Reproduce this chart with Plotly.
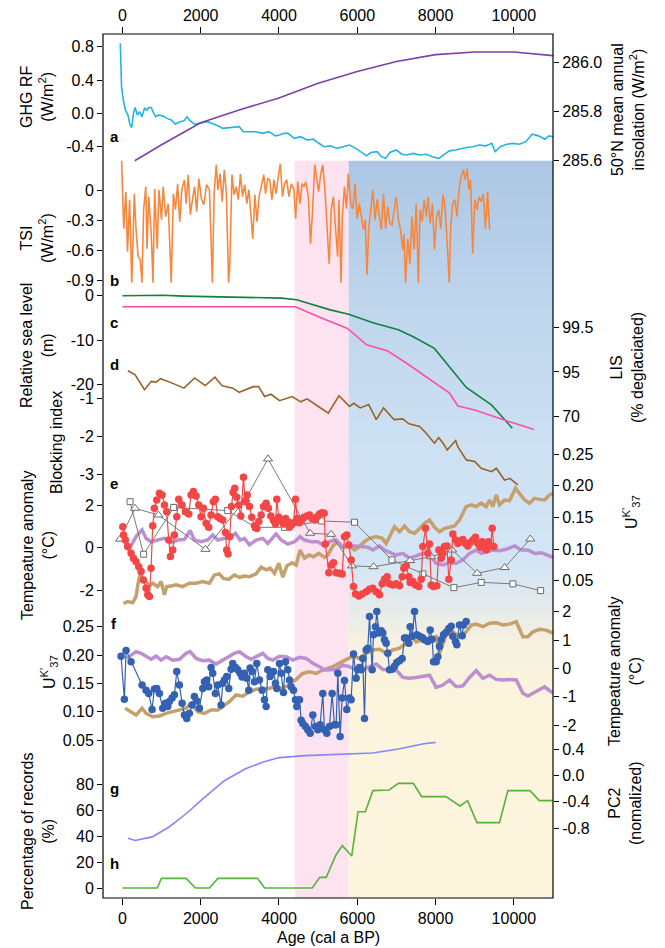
import plotly.graph_objects as go

# ---------------- data ----------------
ghg_age = [-54, -22, 22, 76, 141, 195, 239, 282, 325, 380, 434, 499, 564, 629, 672, 738, 781, 846, 922, 1030,
           1139, 1247, 1356, 1464, 1573, 1649, 1735, 1844, 1952, 2061, 2169, 2278, 2386, 2495, 2549, 2712, 2874,
           2983, 3091, 3254, 3416, 3579, 3742, 3905, 4013, 4121, 4230, 4393, 4555, 4718, 4881, 4989, 5152, 5315,
           5477, 5640, 5803, 5965, 6128, 6236, 6345, 6508, 6616, 6725, 6833, 6996, 7137, 7267, 7430, 7592, 7755,
           7918, 8080, 8243, 8351, 8514, 8677, 8785, 8948, 9111, 9273, 9436, 9523, 9653, 9816, 9978, 10141, 10304,
           10466, 10629, 10792, 10900, 11000]
ghg_rf = [0.84, 0.32, 0.16, 0.04, -0.02, -0.14, -0.17, 0.0, 0.07, -0.02, 0.02, -0.04, 0.06, 0.04, 0.07, 0.07, 0.02,
          -0.04, -0.02, -0.03, -0.06, -0.08, -0.13, -0.10, -0.09, -0.04, -0.09, -0.13, -0.12, -0.11, -0.10, -0.12,
          -0.14, -0.16, -0.18, -0.17, -0.16, -0.16, -0.22, -0.22, -0.22, -0.24, -0.22, -0.27, -0.26, -0.24, -0.24,
          -0.30, -0.28, -0.32, -0.31, -0.35, -0.40, -0.39, -0.42, -0.40, -0.38, -0.42, -0.48, -0.51, -0.47, -0.46,
          -0.52, -0.54, -0.47, -0.44, -0.49, -0.50, -0.48, -0.50, -0.49, -0.52, -0.54, -0.48, -0.45, -0.44, -0.42,
          -0.41, -0.40, -0.38, -0.39, -0.36, -0.46, -0.40, -0.37, -0.36, -0.37, -0.34, -0.25, -0.27, -0.31, -0.27,
          -0.28]

ins_age = [314, 1000, 2000, 3000, 4000, 5000, 6000, 7000, 8000, 9000, 10000, 11000]
ins_val = [285.60, 285.665, 285.754, 285.807, 285.855, 285.915, 285.963, 286.003, 286.031, 286.042, 286.042, 286.027]

tsi_age = [-20, 33, 87, 130, 184, 239, 304, 347, 401, 456, 499, 542, 597, 629, 672, 738, 781, 824, 889, 933, 998,
           1041, 1106, 1171, 1247, 1302, 1356, 1410, 1464, 1518, 1584, 1627, 1681, 1735, 1790, 1844, 1898, 1952,
           2017, 2082, 2148, 2223, 2299, 2343, 2397, 2440, 2495, 2549, 2603, 2657, 2712, 2744, 2798, 2852, 2907,
           2961, 3015, 3069, 3124, 3178, 3232, 3275, 3330, 3384, 3438, 3492, 3557, 3612, 3655, 3709, 3764, 3818,
           3872, 3926, 3981, 4035, 4089, 4143, 4197, 4252, 4317, 4382, 4425, 4479, 4534, 4588, 4642, 4685, 4750,
           4805, 4859, 4913, 4967, 5011, 5065, 5119, 5174, 5228, 5282, 5336, 5390, 5445, 5499, 5531, 5586, 5618,
           5672, 5727, 5770, 5835, 5889, 5944, 5998, 6052, 6106, 6160, 6204, 6247, 6291, 6345, 6399, 6453, 6508,
           6562, 6616, 6670, 6725, 6779, 6833, 6887, 6941, 6996, 7050, 7104, 7158, 7191, 7234, 7289, 7343, 7397,
           7451, 7505, 7560, 7603, 7657, 7711, 7766, 7809, 7863, 7918, 7972, 8026, 8080, 8134, 8189, 8243, 8297,
           8351, 8384, 8438, 8492, 8547, 8601, 8655, 8709, 8753, 8807, 8850, 8894, 8948, 9002, 9056, 9111, 9165,
           9219, 9273, 9327, 9382]
tsi_val = [0.30, -0.38, -0.01, -0.61, -0.09, -0.92, -0.03, -0.38, -0.66, -0.69, -0.92, -0.19, 0.04, -0.58, -0.06,
           -0.44, -0.92, 0.02, -0.58, 0.01, -0.29, 0.04, -0.26, -0.13, -0.92, -0.03, -0.19, 0.07, -0.31, 0.01, 0.11,
           -0.13, 0.16, -0.24, -0.09, 0.04, -0.21, 0.12, -0.08, -0.14, 0.06, 0.01, -0.92, -0.03, 0.26, 0.01, 0.17,
           -0.11, 0.21, -0.04, -0.92, -0.74, 0.16, -0.04, 0.04, -0.09, 0.17, -0.06, 0.06, -0.13, 0.01, -0.18, -0.48,
           -0.04, -0.31, -0.06, 0.07, 0.16, -0.03, 0.12, 0.11, -0.09, 0.11, -0.03, 0.14, 0.27, -0.06, 0.07, 0.11,
           -0.06, 0.07, 0.01, -0.28, 0.09, -0.13, 0.07, 0.04, 0.09, -0.06, -0.53, -0.19, 0.26, 0.11, -0.01, 0.16,
           0.26, 0.01, -0.38, -0.73, -0.18, -0.06, -0.38, -0.66, -0.09, -0.92, -0.26, 0.04, -0.18, 0.17, -0.13,
           -0.18, 0.07, -0.28, -0.13, -0.26, -0.39, -0.29, -0.84, -0.39, -0.18, 0.01, -0.29, -0.09, -0.26, -0.39,
           -0.03, -0.38, -0.16, -0.33, -0.34, -0.21, -0.06, -0.29, -0.39, -0.59, -0.43, -0.92, -0.48, -0.73, -0.26,
           -0.59, -0.13, -0.92, -0.19, -0.31, -0.09, -0.26, -0.06, -0.33, -0.13, -0.59, -0.26, -0.19, -0.38, -0.04,
           -0.16, -0.53, -0.92, -0.38, -0.13, -0.09, -0.26, 0.02, 0.14, 0.21, 0.11, 0.22, 0.01, 0.11, -0.63, -0.09,
           -0.19, -0.06, -0.11, -0.03, -0.38, -0.01, -0.39]

rsl_age = [0, 1030, 1570, 2930, 4070, 4450, 5310, 5780, 6400, 7050, 7430, 7970, 8350, 8785, 9435, 9960]
rsl_m = [0.0, 0.1, -0.1, -0.3, -0.55, -0.9, -3.2, -4.2, -6.1, -7.7, -9.25, -11.9, -16.0, -20.7, -24.7, -29.9]

lis_age = [0, 4415, 5100, 5750, 6240, 6780, 7270, 7865, 8350, 8570, 9000, 9870, 10520]
lis_m_equiv = [-2.5, -2.5, -5.1, -7.4, -11.1, -12.5, -15.3, -19.0, -21.9, -24.9, -25.8, -28.4, -30.2]
lis_ticks_m = [-7.13, -17.22, -27.31]
lis_labels = ["99.5", "95", "70"]

blk_age = [141, 325, 564, 738, 860, 976, 1302, 1573, 1844, 2115, 2364, 2549, 2820, 2983, 3340, 3480, 3633, 3796,
           4013, 4338, 4555, 4718, 5043, 5260, 5531, 5802, 5911, 6074, 6291, 6486, 6670, 6941, 7158, 7321, 7592,
           7755, 7972, 8080, 8190, 8297, 8514, 8568, 8785, 9000, 9165, 9436, 9550, 9761, 9900, 10100]
blk_idx = [-0.26, -0.37, -0.76, -0.54, -0.56, -0.47, -0.60, -0.72, -0.45, -0.65, -0.43, -0.66, -0.72, -0.83, -0.68,
           -0.68, -0.94, -0.88, -1.05, -0.94, -1.08, -1.00, -1.23, -1.38, -0.92, -1.20, -1.12, -1.24, -1.15, -1.55,
           -1.24, -1.55, -1.53, -1.66, -1.73, -1.90, -2.17, -2.02, -2.17, -2.35, -2.10, -2.26, -2.61, -2.65, -2.83,
           -2.92, -2.83, -3.14, -3.10, -3.27]

red_age = [10, 30, 76, 135, 221, 280, 348, 416, 476, 536, 604, 647, 689, 732, 774, 817, 877, 945, 1013, 1073, 1132,
           1183, 1226, 1286, 1328, 1388, 1439, 1524, 1609, 1695, 1754, 1814, 1882, 1950, 2010, 2069, 2137, 2205,
           2265, 2324, 2375, 2435, 2494, 2563, 2631, 2665, 2699, 2742, 2785, 2827, 2870, 2921, 2972, 3023, 3093,
           3135, 3186, 3246, 3305, 3374, 3433, 3484, 3544, 3604, 3672, 3731, 3791, 3859, 3910, 3944, 3995, 4055,
           4115, 4166, 4225, 4268, 4319, 4370, 4421, 4464, 4523, 4583, 4643, 4711, 4779, 4847, 4915, 4975, 5035,
           5094, 5154, 5184, 5273, 5333, 5392, 5460, 5546, 5614, 5674, 5733, 5784, 5844, 5904, 5955, 6040, 6125,
           6227, 6312, 6397, 6482, 6568, 6636, 6696, 6764, 6823, 6909, 6994, 7079, 7147, 7190, 7250, 7318, 7352,
           7420, 7488, 7573, 7633, 7675, 7744, 7803, 7846, 7889, 7948, 8033, 8085, 8144, 8187, 8230, 8289, 8340,
           8400, 8442, 8510, 8570, 8630, 8698, 8766, 8826, 8885, 8953, 9021, 9081, 9141, 9192, 9251, 9294, 9353,
           9405, 9447, 9490]
red_t = [0.99, 0.60, 0.36, 0.05, -0.27, -0.50, -0.66, -0.90, -1.13, -1.53, -1.92, -2.23, -2.31, -0.97, 1.03, 1.86,
         2.25, 2.57, 2.49, 2.02, 1.70, 0.36, -0.42, -0.11, 0.60, 1.46, 2.28, 2.02, 1.70, 1.59, 2.49, 2.65, 2.44,
         2.02, 1.46, 1.86, 1.15, 0.96, 1.54, 2.17, 2.28, 1.46, 1.38, 1.30, 0.71, -0.11, -0.30, 0.52, 1.94, 2.60,
         2.80, 2.38, 2.02, 1.49, 3.33, 2.17, 2.49, 1.94, 1.43, 1.04, 0.91, 1.23, 1.54, 1.94, 2.10, 1.86, 1.49,
         1.28, 1.12, 2.28, 1.43, 1.28, 1.12, 1.38, 1.23, 0.96, 1.07, 1.18, 2.28, 1.38, 1.18, 1.30, 1.43, 1.49,
         1.54, 1.38, 1.30, 1.46, 1.59, 1.65, 1.62, 0.17, -1.18, -0.82, -0.71, -1.18, -1.21, -1.24, 0.52, 0.60,
         0.13, -0.58, -1.84, -2.19, -2.28, -2.19, -2.08, -1.97, -1.92, -2.08, -2.23, -1.71, -1.49, -1.37, -1.71,
         -1.76, -1.71, -1.80, -1.37, -0.97, -0.86, -1.37, -1.65, -1.60, -1.76, -1.84, -1.49, 0.05, 0.92, -0.27,
         0.17, -1.76, -1.84, -1.80, -0.11, -0.50, -0.27, 0.05, 0.08, -1.49, -0.58, 0.65, 0.36, 0.20, 0.33, 0.39,
         0.20, 0.08, 0.24, 0.36, 0.49, 0.20, 0.02, 0.28, 0.20, -0.11, 0.28, 0.08, 0.92, 0.05]

sq_age = [195, 542, 1310, 2690, 3400, 4140, 5090, 5930, 6884, 7676, 8468, 9166, 9976, 10684]
sq_t = [2.17, -0.31, 1.90, 1.75, 0.96, 0.96, 1.26, 1.20, -0.58, -1.24, -1.89, -1.64, -1.71, -2.03]

tri_age = [-60, 322, 920, 2121, 3145, 3720, 4795, 5332, 5868, 6415, 7350, 7887, 8424, 9063, 9764, 10419]
tri_t = [0.40, 1.86, 1.54, -0.08, 2.29, 4.19, 0.68, 0.63, -0.86, -0.90, -0.61, -0.43, -0.11, -1.21, -0.94, 0.41]

pe_age = [51, 161, 348, 502, 604, 732, 902, 1073, 1243, 1413, 1584, 1729, 1839, 2010, 2180, 2308, 2435, 2606, 2776,
          2887, 3006, 3117, 3245, 3416, 3586, 3714, 3842, 3927, 4055, 4225, 4396, 4540, 4651, 4822, 4992, 5162,
          5289, 5460, 5588, 5758, 5929, 6099, 6270, 6397, 6568, 6696, 6866, 6994, 7164, 7335, 7505, 7675, 7846,
          8016, 8187, 8357, 8527, 8698, 8868, 9039, 9166, 9294, 9464, 9635, 9805, 10018, 10189, 10359, 10529,
          10700, 10870, 10998]
pe_t = [0.36, -0.11, 0.52, 0.84, 0.44, 0.28, 0.36, 0.44, 0.23, 0.36, 0.39, 0.81, 0.36, 0.28, 0.36, 0.60, 0.36, 0.44,
        0.52, 0.68, 0.36, 0.44, 0.13, 0.36, 0.44, 0.20, 0.44, 0.65, 0.36, 0.17, 0.28, 0.52, 0.36, 0.28, 0.28, 0.08,
        0.28, 0.36, 0.08, 0.05, 0.08, 0.05, 0.02, -0.11, 0.08, -0.11, -0.27, -0.35, -0.27, -0.50, -0.39, -0.27,
        -0.35, -0.74, -0.82, -0.71, -0.74, -0.58, -0.27, -0.11, -0.27, -0.19, -0.11, -0.14, -0.08, 0.08, -0.11,
        -0.11, -0.27, -0.24, -0.35, -0.46]

te_age = [25, 135, 263, 348, 416, 450, 519, 604, 689, 774, 902, 988, 1073, 1132, 1243, 1371, 1541, 1711, 1882, 2052,
          2222, 2350, 2478, 2580, 2716, 2861, 2989, 3117, 3245, 3416, 3544, 3672, 3774, 3884, 3995, 4097, 4200,
          4336, 4438, 4540, 4651, 4762, 4881, 5018, 5162, 5247, 5375, 5503, 5630, 5784, 5929, 6057, 6184, 6312,
          6482, 6636, 6738, 6823, 6951, 7079, 7207, 7335, 7463, 7590, 7718, 7846, 7974, 8102, 8229, 8357, 8485,
          8613, 8783, 8911, 9039, 9166, 9294, 9379, 9464, 9549, 9635, 9762, 9890, 10043, 10146, 10274, 10402,
          10529, 10657, 10785, 10913, 10998]
te_t = [-2.63, -2.55, -2.60, -2.31, -1.53, -1.29, -1.53, -1.60, -1.81, -1.68, -1.84, -1.60, -2.23, -1.84, -1.81,
        -1.76, -1.84, -1.68, -1.68, -1.60, -1.68, -1.29, -1.24, -1.45, -1.50, -1.29, -1.40, -1.34, -1.37, -1.24,
        -0.92, -1.05, -0.97, -1.21, -0.74, -1.40, -0.86, -0.71, -0.82, -0.11, -0.50, -0.35, -0.43, -0.27, -0.46,
        -0.35, 0.08, 0.28, 0.02, 0.08, -0.11, 0.05, 0.28, 0.44, 0.52, 0.44, 0.20, 0.52, 0.99, 0.75, 1.02, 0.75,
        0.68, 0.91, 1.15, 1.31, 0.96, 0.75, 0.91, 0.96, 1.02, 1.31, 1.94, 2.02, 1.94, 2.10, 1.94, 2.25, 1.94, 2.49,
        2.02, 2.25, 2.22, 2.80, 2.57, 2.25, 2.10, 2.33, 2.28, 2.25, 2.49, 2.57]

blue_age = [-35, 50, 93, 221, 502, 604, 672, 757, 817, 877, 945, 1030, 1098, 1158, 1200, 1269, 1328, 1388, 1456,
            1524, 1584, 1644, 1711, 1780, 1839, 1899, 1967, 2052, 2095, 2154, 2205, 2265, 2307, 2375, 2435, 2521,
            2563, 2606, 2665, 2716, 2776, 2819, 2887, 2946, 3006, 3057, 3117, 3177, 3228, 3262, 3314, 3373, 3433,
            3501, 3569, 3629, 3672, 3714, 3774, 3859, 3910, 3944, 4012, 4055, 4114, 4166, 4225, 4268, 4310, 4370,
            4421, 4455, 4523, 4566, 4608, 4677, 4736, 4796, 4864, 4932, 4992, 5051, 5119, 5162, 5222, 5290, 5358,
            5417, 5460, 5503, 5562, 5613, 5673, 5732, 5801, 5843, 5903, 5971, 6014, 6056, 6099, 6141, 6184, 6227,
            6269, 6312, 6380, 6414, 6465, 6499, 6550, 6610, 6653, 6695, 6738, 6780, 6823, 6891, 6951, 7010, 7079,
            7147, 7206, 7249, 7317, 7351, 7402, 7462, 7521, 7590, 7658, 7717, 7802, 7862, 7913, 7947, 8015, 8058,
            8101, 8143, 8203, 8271, 8339, 8399, 8441, 8509, 8543, 8611, 8680, 8714, 8782]
blue_uk = [0.198, 0.122, 0.208, 0.188, 0.147, 0.138, 0.132, 0.104, 0.140, 0.141, 0.132, 0.106, 0.115, 0.109, 0.118,
           0.124, 0.130, 0.171, 0.147, 0.115, 0.094, 0.088, 0.097, 0.112, 0.127, 0.119, 0.106, 0.141, 0.153, 0.156,
           0.144, 0.178, 0.168, 0.132, 0.147, 0.112, 0.150, 0.156, 0.162, 0.141, 0.175, 0.185, 0.178, 0.174, 0.168,
           0.161, 0.168, 0.159, 0.138, 0.177, 0.171, 0.153, 0.185, 0.156, 0.138, 0.121, 0.109, 0.174, 0.162, 0.171,
           0.150, 0.141, 0.185, 0.168, 0.134, 0.188, 0.174, 0.156, 0.144, 0.138, 0.121, 0.109, 0.121, 0.085, 0.079,
           0.074, 0.068, 0.062, 0.094, 0.074, 0.068, 0.077, 0.132, 0.068, 0.062, 0.074, 0.132, 0.077, 0.077, 0.168,
           0.056, 0.124, 0.155, 0.104, 0.124, 0.121, 0.202, 0.159, 0.174, 0.178, 0.174, 0.194, 0.088, 0.209, 0.212,
           0.268, 0.174, 0.236, 0.250, 0.277, 0.239, 0.243, 0.239, 0.227, 0.221, 0.203, 0.174, 0.175, 0.180, 0.187,
           0.190, 0.194, 0.230, 0.230, 0.221, 0.250, 0.233, 0.277, 0.236, 0.233, 0.231, 0.227, 0.224, 0.244, 0.228,
           0.188, 0.188, 0.197, 0.215, 0.227, 0.236, 0.240, 0.247, 0.251, 0.233, 0.224, 0.218, 0.253, 0.234, 0.253,
           0.259]

pf_age = [112, 221, 348, 476, 604, 732, 860, 988, 1115, 1286, 1456, 1626, 1729, 1882, 2052, 2222, 2393, 2563, 2716,
          2861, 2989, 3143, 3288, 3433, 3586, 3714, 3842, 4012, 4183, 4353, 4523, 4694, 4864, 5034, 5162, 5460,
          5630, 5801, 5971, 6141, 6312, 6482, 6653, 6823, 6994, 7164, 7335, 7505, 7675, 7846, 8016, 8187, 8357,
          8527, 8698, 8868, 9039, 9209, 9379, 9549, 9720, 9890, 10061, 10231, 10359, 10487, 10657, 10785, 10913,
          10998]
pf_t = [0.35, 0.47, 0.59, 0.53, 0.41, 0.32, 0.43, 0.29, 0.41, 0.29, 0.32, 0.53, 0.59, 0.35, 0.27, 0.29, 0.15, 0.29,
        0.43, 0.53, 0.59, 0.43, 0.32, 0.41, 0.53, 0.35, 0.29, 0.43, 0.41, 0.29, 0.39, 0.35, 0.18, 0.06, -0.06,
        -0.04, 0.11, 0.06, -0.06, -0.04, 0.06, 0.15, -0.04, -0.06, -0.06, -0.32, -0.35, -0.32, -0.27, -0.24, -0.67,
        -0.59, -0.41, -0.65, -0.62, -0.32, -0.08, -0.35, -0.24, -0.39, -0.41, -0.39, -0.41, -0.88, -0.98, -0.88,
        -0.74, -0.65, -0.79, -0.86]

tf_age = [68, 196, 348, 502, 604, 774, 945, 1115, 1286, 1456, 1626, 1754, 1924, 2095, 2265, 2435, 2563, 2733, 2904,
          3074, 3245, 3416, 3586, 3757, 3910, 4055, 4183, 4310, 4438, 4608, 4779, 4949, 5119, 5375, 5545, 5716,
          5886, 6056, 6227, 6397, 6568, 6738, 6908, 7079, 7249, 7377, 7505, 7675, 7846, 8016, 8101, 8271, 8441,
          8611, 8782, 8910, 9039, 9209, 9379, 9549, 9720, 9890, 10061, 10231, 10359, 10487, 10657, 10827, 10998]
tf_t = [-1.41, -1.53, -1.65, -1.41, -1.59, -1.71, -1.68, -1.59, -1.53, -1.45, -1.41, -1.24, -1.53, -1.59, -1.47,
        -1.47, -1.36, -1.18, -0.94, -0.98, -0.83, -0.74, -0.71, -0.71, -0.62, -0.71, -0.65, -0.53, -0.39, -0.18,
        -0.12, -0.18, -0.06, 0.06, 0.18, 0.29, 0.43, 0.35, 0.53, 0.65, 0.67, 0.53, 0.65, 0.71, 0.88, 1.12, 0.94,
        1.00, 1.02, 1.12, 0.53, 1.18, 1.29, 1.12, 1.29, 1.53, 1.56, 1.47, 1.59, 1.61, 1.53, 1.56, 1.65, 1.12, 1.12,
        1.29, 1.38, 1.35, 1.24]

pc2_age = [141, 325, 760, 1193, 1627, 2060, 2603, 3145, 3579, 4013, 4664, 5857, 6399, 7050, 7700, 8004]
pc2_val = [-0.95, -0.985, -0.93, -0.78, -0.58, -0.35, -0.08, 0.10, 0.20, 0.27, 0.30, 0.32, 0.34, 0.40, 0.48, 0.50]

pct_age = [0, 890, 998, 1627, 1866, 2223, 2440, 3449, 3633, 4848, 5043, 5206, 5456, 5618, 5857, 6020, 6204, 6399,
           6811, 7050, 7430, 7646, 8265, 8623, 8818, 9056, 9631, 9848, 10412, 10650, 11000]
pct_val = [0, 0, 7.4, 7.4, 0, 0, 7.4, 7.4, 0, 0, 8.2, 8.2, 25.4, 32.6, 24.6, 58.7, 58.7, 74.9, 75.4, 80.5, 80.5,
           70.3, 70.3, 63.1, 67.2, 50.3, 50.3, 74.9, 74.9, 67.2, 67.2]

pink_span = [4400, 5780]
shade_span = [5780, 11000]
x_ticks = [0, 2000, 4000, 6000, 8000, 10000]

# ---------------- layout helpers (positions in page pixels) ----------------
PAGE_W, PAGE_H = 665, 948
BODY = 8  # default page margin around the plot div
W, H = PAGE_W - BODY, PAGE_H - BODY
PL, PR, PT, PB = 103, 553, 34, 898
FONT = "Liberation Sans, Arial, sans-serif"


def pxx(x):
    return (x - PL) / (PR - PL)


def pyy(y):
    return (PB - y) / (PB - PT)


def yax(v1, p1, v2, p2, tickvals, ticktext, side="left", overlay=True):
    s = (v1 - v2) / (p2 - p1)
    lo = v1 - s * (PB - p1)
    hi = v1 + s * (p1 - PT)
    d = dict(range=[lo, hi], domain=[0, 1], tickvals=tickvals, ticktext=ticktext, ticks="outside",
             ticklen=5, tickwidth=1, tickcolor="black", showgrid=False, zeroline=False, showline=False,
             side=side, anchor="x", automargin=False,
             tickfont=dict(family=FONT, size=16, color="black"), fixedrange=True)
    if overlay:
        d["overlaying"] = "y"
    return d


fig = go.Figure()


def line(x, y, ax, color, width=1.5, **kw):
    fig.add_trace(go.Scatter(x=x, y=y, yaxis=ax, mode="lines", line=dict(color=color, width=width),
                             showlegend=False, hoverinfo="skip", **kw))


# a
line(ghg_age, ghg_rf, "y", "#22b4e2", 1.6)
line(ins_age, ins_val, "y2", "#7e40a6", 1.6)
# b
line(tsi_age, tsi_val, "y3", "#f8873e", 1.6)
# c
line(rsl_age, rsl_m, "y4", "#128040", 1.6)
line(lis_age, lis_m_equiv, "y4", "#ff4fa5", 1.6)
fig.add_trace(go.Scatter(x=[None], y=[None], yaxis="y5", showlegend=False, hoverinfo="skip"))
# d
line(blk_age, blk_idx, "y6", "#9b6226", 1.6)
# e
line(te_age, te_t, "y7", "#c4a06c", 3.5)
line(pe_age, pe_t, "y7", "#bb8fd0", 3.5)
fig.add_trace(go.Scatter(x=sq_age, y=sq_t, yaxis="y7", mode="lines+markers",
                         line=dict(color="#7a7a7a", width=1),
                         marker=dict(symbol="square", size=6, color="white", line=dict(color="#6a6a6a", width=1)),
                         showlegend=False, hoverinfo="skip"))
fig.add_trace(go.Scatter(x=tri_age, y=tri_t, yaxis="y7", mode="lines+markers",
                         line=dict(color="#7a7a7a", width=1),
                         marker=dict(symbol="triangle-up", size=8, color="white", line=dict(color="#6a6a6a", width=1)),
                         showlegend=False, hoverinfo="skip"))
fig.add_trace(go.Scatter(x=red_age, y=red_t, yaxis="y7", mode="lines+markers",
                         line=dict(color="#f24848", width=1.2),
                         marker=dict(size=7.5, color="#f44646"), showlegend=False, hoverinfo="skip"))
fig.add_trace(go.Scatter(x=[None], y=[None], yaxis="y8", showlegend=False, hoverinfo="skip"))
# f
line(tf_age, tf_t, "y9", "#c4a06c", 3.5)
line(pf_age, pf_t, "y9", "#bb8fd0", 3.5)
fig.add_trace(go.Scatter(x=blue_age, y=blue_uk, yaxis="y10", mode="lines+markers",
                         line=dict(color="#3461b2", width=1.2),
                         marker=dict(size=7.5, color="#3461b2"), showlegend=False, hoverinfo="skip"))
# g, h
line(pc2_age, pc2_val, "y11", "#8585ff", 1.6)
line(pct_age, pct_val, "y12", "#55b33c", 1.6)
# dummy for top axis
fig.add_trace(go.Scatter(x=[None], y=[None], xaxis="x2", yaxis="y", showlegend=False, hoverinfo="skip"))

# ---------------- background shading ----------------
shapes = []
y_top_shade = 160.7
shapes.append(dict(type="rect", xref="x", yref="paper", x0=pink_span[0], x1=pink_span[1],
                   y0=pyy(PB), y1=pyy(y_top_shade), fillcolor="#fde3f0", line=dict(width=0), layer="below"))
stops = [(160.7, (172, 199, 228)), (300, (190, 213, 236)), (450, (205, 225, 243)), (560, (211, 229, 245)),
         (600, (226, 233, 237)), (640, (245, 241, 224)), (700, (252, 244, 221)), (898, (253, 245, 222))]


def col_at(y):
    for (y0, c0), (y1, c1) in zip(stops[:-1], stops[1:]):
        if y0 <= y <= y1:
            t = (y - y0) / (y1 - y0)
            return tuple(round(c0[i] + t * (c1[i] - c0[i])) for i in range(3))
    return stops[-1][1]


step = 3
yy = y_top_shade
while yy < PB:
    y2 = min(yy + step, PB)
    c = col_at((yy + y2) / 2)
    shapes.append(dict(type="rect", xref="x", yref="paper", x0=shade_span[0], x1=shade_span[1],
                       y0=pyy(min(y2 + 0.6, PB)), y1=pyy(yy), fillcolor="rgb(%d,%d,%d)" % c,
                       line=dict(width=0), layer="below"))
    yy = y2
# frame
shapes.append(dict(type="rect", xref="paper", yref="paper", x0=0, x1=1, y0=0, y1=1,
                   line=dict(color="black", width=1.2), layer="above"))

# ---------------- annotations ----------------
ann = []


def text(x, y, s, angle=0, size=16, bold=False, xanchor="center"):
    ann.append(dict(x=pxx(x), y=pyy(y), xref="paper", yref="paper", text=("<b>%s</b>" % s) if bold else s,
                    textangle=angle, showarrow=False, xanchor=xanchor, yanchor="middle",
                    font=dict(family=FONT, size=size, color="black")))


text(37, 97, "GHG RF<br>(W/m<sup>2</sup>)", -90)
text(37, 238, "TSI<br>(W/m<sup>2</sup>)", -90)
text(37, 346, "Relative sea level<br>(m)", -90)
text(56, 443, "Blocking index", -90)
text(38, 546, "Tempeature anomaly<br>(°C)", -90)
text(49, 672, "U<sup>K'</sup><sub>37</sub>", -90)
text(38, 832, "Percentage of records<br>(%)", -90)
text(628, 110, "50°N mean annual<br>insolation (W/m<sup>2</sup>)", -90)
text(627, 368, "LIS<br>(% deglaciated)", -90)
text(631, 512, "U<sup>K'</sup><sub>37</sub>", -90)
text(625, 672, "Tempeature anomaly<br>(°C)", -90)
text(625, 803, "PC2<br>(nomalized)", -90)
text(328, 937, "Age (cal a BP)")
for lab, yl in [("a", 137), ("b", 280), ("c", 323), ("d", 364), ("e", 483), ("f", 623), ("g", 788), ("h", 863)]:
    text(114, yl, lab, 0, 15, True)

# ---------------- axes ----------------
xcommon = dict(range=[-496, 11000], domain=[0, 1], tickvals=x_ticks, ticktext=[str(v) for v in x_ticks],
               ticks="outside", ticklen=6, tickwidth=1, tickcolor="black", showgrid=False, zeroline=False,
               showline=False, automargin=False, tickfont=dict(family=FONT, size=16, color="black"),
               fixedrange=True)

fig.update_layout(
    width=W, height=H,
    margin=dict(l=PL - BODY, r=PAGE_W - PR, t=PT - BODY, b=PAGE_H - PB, autoexpand=False),
    paper_bgcolor="white", plot_bgcolor="white", showlegend=False,
    font=dict(family=FONT, size=16, color="black"),
    xaxis=dict(**xcommon, side="bottom"),
    xaxis2=dict(**xcommon, side="top", overlaying="x", anchor="y"),
    yaxis=yax(0.8, 46.7, -0.4, 146.7, [0.8, 0.4, 0.0, -0.4], ["0.8", "0.4", "0.0", "-0.4"], overlay=False),
    yaxis2=yax(286.0, 62.3, 285.6, 160.7, [286.0, 285.8, 285.6], ["286.0", "285.8", "285.6"], side="right"),
    yaxis3=yax(0, 190.7, -0.9, 280.7, [0, -0.3, -0.6, -0.9], ["0", "-0.3", "-0.6", "-0.9"]),
    yaxis4=yax(0, 295.7, -20, 384.3, [0, -10, -20], ["0", "-10", "-20"]),
    yaxis5=yax(0, 295.7, -20, 384.3, lis_ticks_m, lis_labels, side="right"),
    yaxis6=yax(-1, 398.8, -3, 474.7, [-1, -2, -3], ["-1", "-2", "-3"]),
    yaxis7=yax(2, 505.3, -2, 590, [2, 0, -2], ["2", "0", "-2"]),
    yaxis8=yax(0.25, 454, 0.05, 580.7, [0.25, 0.20, 0.15, 0.10, 0.05],
               ["0.25", "0.20", "0.15", "0.10", "0.05"], side="right"),
    yaxis9=yax(2, 611.7, -2, 725, [2, 1, 0, -1, -2], ["2", "1", "0", "-1", "-2"], side="right"),
    yaxis10=yax(0.25, 626.7, 0.05, 740, [0.25, 0.20, 0.15, 0.10, 0.05],
                ["0.25", "0.20", "0.15", "0.10", "0.05"]),
    yaxis11=yax(0.4, 749, -0.8, 828.3, [0.4, 0.0, -0.4, -0.8], ["0.4", "0.0", "-0.4", "-0.8"], side="right"),
    yaxis12=yax(80, 784, 0, 888, [80, 60, 40, 20, 0], ["80", "60", "40", "20", "0"]),
    shapes=shapes, annotations=ann,
)

fig.write_html("out.html")
